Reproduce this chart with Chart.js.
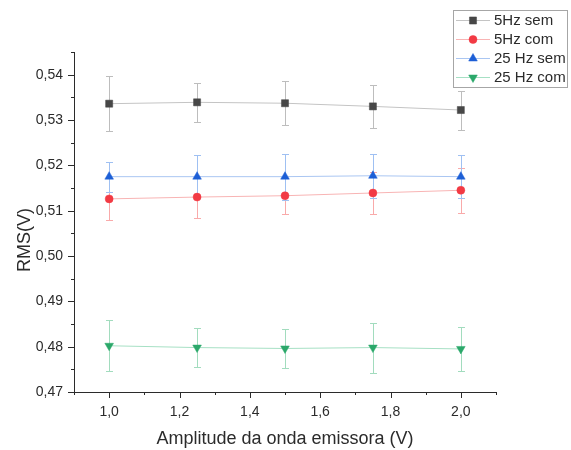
<!DOCTYPE html>
<html>
<head>
<meta charset="utf-8">
<script src="https://cdn.jsdelivr.net/npm/chart.js@4.4.1/dist/chart.umd.min.js"></script>
<style>
  html, body { margin: 0; padding: 0; background: #fff; }
</style>
</head>
<body>
<canvas id="rms-chart" width="571" height="450"></canvas>
<script>
// ── Data ───────────────────────────────────────────────────────────────
const amplitude = [1.0, 1.25, 1.5, 1.75, 2.0];

const rms5Sem    = [0.5336, 0.5339, 0.5337, 0.5330, 0.5322];
const rms5SemErr = [0.0060, 0.0043, 0.0049, 0.0048, 0.0043];

const rms5Com    = [0.5126, 0.5130, 0.5133, 0.5139, 0.5145];
const rms5ComErr = [0.0047, 0.0046, 0.0040, 0.0047, 0.0050];

const rms25Sem    = [0.5175, 0.5175, 0.5175, 0.5177, 0.5175];
const rms25SemErr = [0.0033, 0.0048, 0.0051, 0.0049, 0.0047];

const rms25Com    = [0.4802, 0.4798, 0.4796, 0.4798, 0.4795];
const rms25ComErr = [0.0056, 0.0043, 0.0042, 0.0055, 0.0048];

const seriesLabels = ['5Hz sem', '5Hz com', '25 Hz sem', '25 Hz com'];

const font = "'Liberation Sans', Arial, sans-serif";
const ink = '#2b2b2b';

const pts = (ys) => amplitude.map((x, i) => ({ x, y: ys[i] }));

function series(label, ys, errs, line, marker, errColor, style, rotation) {
    return {
        label,
        data: pts(ys),
        errors: errs,
        errorColor: errColor,
        borderColor: line,
        borderWidth: 1,
        backgroundColor: marker,
        pointBackgroundColor: marker,
        pointBorderColor: marker,
        pointBorderWidth: 0.5,
        pointStyle: style,
        pointRotation: rotation || 0,
        pointRadius: style === 'circle' ? 4 : 5,
        tension: 0
    };
}

// ── Error bars (drawn under the markers) ────────────────────────────────
const errorBars = {
    id: 'errorBars',
    beforeDatasetsDraw(chart) {
        const { ctx, scales: { x, y } } = chart;
        chart.data.datasets.forEach((ds) => {
            ctx.save();
            ctx.strokeStyle = ds.errorColor;
            ctx.lineWidth = 1;
            ctx.beginPath();
            ds.data.forEach((p, j) => {
                const e = ds.errors[j];
                const px = Math.round(x.getPixelForValue(p.x)) + 0.5;
                const top = Math.round(y.getPixelForValue(p.y + e)) + 0.5;
                const bot = Math.round(y.getPixelForValue(p.y - e)) + 0.5;
                ctx.moveTo(px, top); ctx.lineTo(px, bot);
                ctx.moveTo(px - 3.5, top); ctx.lineTo(px + 3.5, top);
                ctx.moveTo(px - 3.5, bot); ctx.lineTo(px + 3.5, bot);
            });
            ctx.stroke();
            ctx.restore();
        });
    }
};

// ── Outward major/minor ticks, y title, boxed legend ────────────────────
const decorations = {
    id: 'decorations',
    afterDraw(chart) {
        const { ctx, chartArea: a, scales: { x, y } } = chart;
        ctx.save();
        ctx.strokeStyle = ink;
        ctx.lineWidth = 1;
        ctx.beginPath();
        x.ticks.forEach(t => {
            const px = Math.round(x.getPixelForValue(t.value)) + 0.5;
            const len = t.label !== '' ? 6 : 3;
            ctx.moveTo(px, a.bottom); ctx.lineTo(px, a.bottom + len);
        });
        y.ticks.forEach(t => {
            const py = Math.round(y.getPixelForValue(t.value)) + 0.5;
            const len = t.label !== '' ? 6 : 3;
            ctx.moveTo(a.left, py); ctx.lineTo(a.left - len, py);
        });
        ctx.stroke();

        // y axis title
        ctx.fillStyle = ink;
        ctx.font = `18px ${font}`;
        ctx.textAlign = 'center';
        ctx.textBaseline = 'middle';
        ctx.translate(25, 240);
        ctx.rotate(-Math.PI / 2);
        ctx.fillText('RMS(V)', 0, 0);
        ctx.setTransform(1, 0, 0, 1, 0, 0);

        // legend
        ctx.fillStyle = '#fff';
        ctx.fillRect(453.5, 10.5, 114, 77);
        ctx.strokeStyle = '#a6a6a6';
        ctx.strokeRect(453.5, 10.5, 114, 77);
        chart.data.datasets.forEach((ds, i) => {
            const cy = 20 + i * 19;
            ctx.strokeStyle = ds.borderColor;
            ctx.lineWidth = 1;
            ctx.beginPath();
            ctx.moveTo(456, cy + 0.5); ctx.lineTo(490, cy + 0.5);
            ctx.stroke();
            ctx.fillStyle = ds.pointBackgroundColor;
            ctx.strokeStyle = ds.pointBorderColor;
            ctx.lineWidth = 0.5;
            Chart.helpers.drawPoint(ctx, {
                pointStyle: ds.pointStyle,
                rotation: ds.pointRotation,
                radius: ds.pointRadius,
                borderWidth: 0.5
            }, 473, cy + 0.5);
            ctx.fillStyle = ink;
            ctx.font = `15px ${font}`;
            ctx.textAlign = 'left';
            ctx.textBaseline = 'middle';
            ctx.fillText(ds.label, 494, cy + 1);
        });
        ctx.restore();
    }
};

new Chart(document.getElementById('rms-chart'), {
    type: 'line',
    data: {
        datasets: [
            series(seriesLabels[0], rms5Sem,  rms5SemErr,  '#c4c4c4', '#474747', '#bdbdbd', 'rect'),
            series(seriesLabels[1], rms5Com,  rms5ComErr,  '#f8b4b4', '#f23a44', '#f9aaaa', 'circle'),
            series(seriesLabels[2], rms25Sem, rms25SemErr, '#aac6f2', '#1d5fd6', '#9fc0f2', 'triangle'),
            series(seriesLabels[3], rms25Com, rms25ComErr, '#a6e0c4', '#2ba86a', '#a2dcbe', 'triangle', 180)
        ]
    },
    options: {
        responsive: false,
        animation: false,
        layout: { padding: { top: 52, right: 75, left: 0, bottom: 0 } },
        plugins: { legend: { display: false }, tooltip: { enabled: false } },
        scales: {
            x: {
                type: 'linear', min: 0.9, max: 2.1,
                afterFit: s => { s.height = 58; },
                grid: { display: false, drawTicks: false },
                border: { color: ink, width: 1 },
                ticks: {
                    stepSize: 0.1, autoSkip: false, maxRotation: 0, padding: 12,
                    color: ink, font: { family: font, size: 14 },
                    callback: v => Math.round(v * 10) % 2 === 0 ? v.toFixed(1).replace('.', ',') : ''
                },
                title: {
                    display: true, text: 'Amplitude da onda emissora (V)',
                    color: ink, font: { family: font, size: 18 }, padding: { top: 0, bottom: 0 }
                }
            },
            y: {
                type: 'linear', min: 0.47, max: 0.545,
                afterFit: s => { s.width = 74; },
                grid: { display: false, drawTicks: false },
                border: { color: ink, width: 1 },
                ticks: {
                    stepSize: 0.005, autoSkip: false, padding: 11,
                    color: ink, font: { family: font, size: 14 },
                    callback: v => Math.round(v * 1000) % 10 === 0 ? v.toFixed(2).replace('.', ',') : ''
                }
            }
        }
    },
    plugins: [errorBars, decorations]
});
</script>
</body>
</html>
